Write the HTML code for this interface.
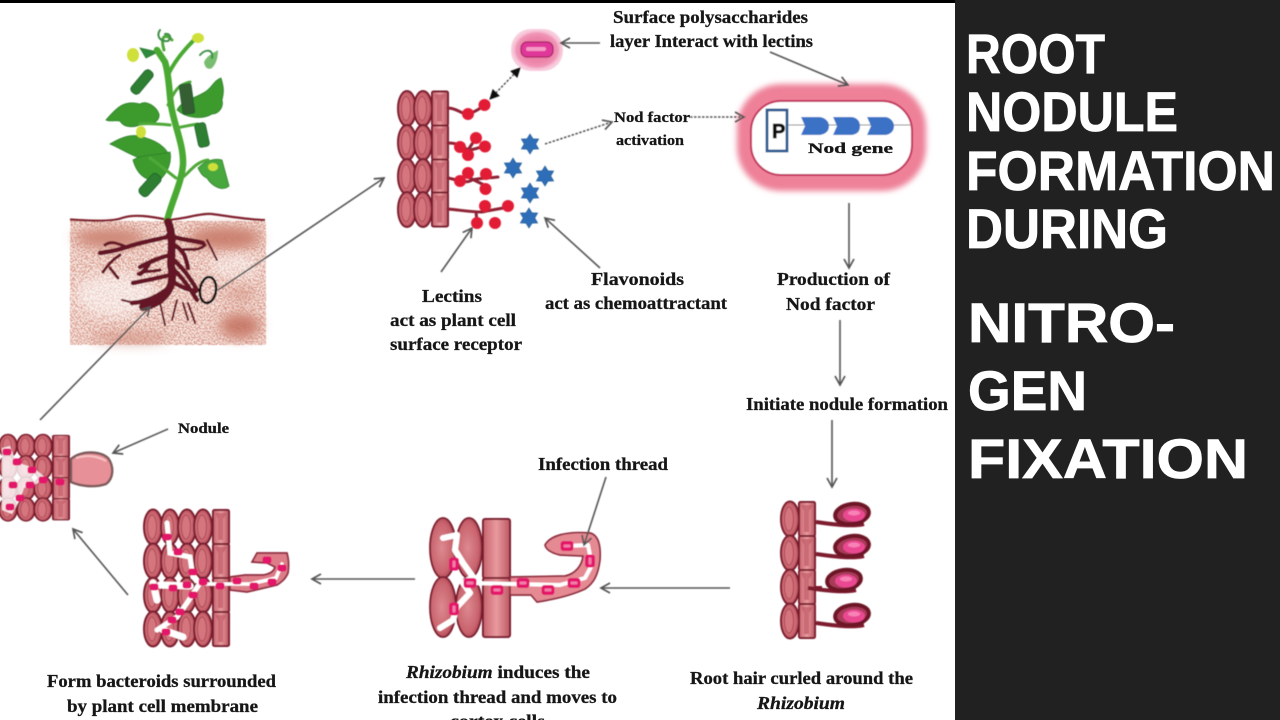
<!DOCTYPE html>
<html lang="en">
<head>
<meta charset="utf-8">
<title>Root nodule formation</title>
<style>
html,body{margin:0;padding:0;background:#212121;width:1280px;height:720px;overflow:hidden}
svg{display:block}
.t{font-family:"Liberation Serif",serif;font-weight:bold;fill:#161616;stroke:#161616;stroke-width:.3;font-size:18px}
.h{font-family:"Liberation Sans",sans-serif;font-weight:bold;fill:#fff;stroke:#fff;stroke-width:.8;font-size:56px}
.a{fill:none;stroke:#555;stroke-width:1.6;marker-end:url(#ah)}
.d{fill:none;stroke:#555;stroke-width:1.5;stroke-dasharray:2.5 1.5}
</style>
</head>
<body>
<svg width="1280" height="720" viewBox="0 0 1280 720" xmlns="http://www.w3.org/2000/svg">
<defs>
<marker id="ah" markerWidth="14" markerHeight="14" refX="11" refY="6" orient="auto" markerUnits="userSpaceOnUse"><path d="M2 1L11 6L2 11" fill="none" stroke="#555" stroke-width="1.7"/></marker>
<marker id="hd" markerWidth="14" markerHeight="14" refX="10" refY="6" orient="auto-start-reverse" markerUnits="userSpaceOnUse"><path d="M1 1L11 6L1 11Z" fill="#111"/></marker>
<radialGradient id="eg" cx=".45" cy=".5" r=".6"><stop offset="0" stop-color="#dd8a90"/><stop offset=".7" stop-color="#c9636d"/><stop offset="1" stop-color="#9c3546"/></radialGradient>
<linearGradient id="rg" x1="0" x2="1"><stop offset="0" stop-color="#c8636e"/><stop offset=".5" stop-color="#e89a9e"/><stop offset="1" stop-color="#bd5863"/></linearGradient>
<radialGradient id="glow" cx=".5" cy=".5" r=".5"><stop offset=".55" stop-color="#e66a94"/><stop offset=".8" stop-color="#f08fb0"/><stop offset="1" stop-color="#fff" stop-opacity="0"/></radialGradient>
<g id="e"><ellipse rx="9" ry="17.5" fill="url(#eg)" stroke="#7a1b2d" stroke-width="2"/><ellipse cx="-1" rx="4.500" ry="12" fill="#d5757e" stroke="#a03c4a" stroke-width=".8"/></g>
<g id="r"><rect x="-8" y="-17" width="16" height="34" rx="1.500" fill="url(#rg)" stroke="#7a1b2d" stroke-width="2"/><path d="M-6-14H6L2-8V13H-3V-8Z" fill="#c05a66" opacity=".7"/></g>
<g id="m"><rect x="-6.500" y="-5" width="13" height="10" rx="3" fill="#e3186a"/><rect x="-3.500" y="-1.500" width="7" height="3" rx="1" fill="#f27ba8"/></g>
<g id="s"><rect x="-4.500" y="-3.500" width="9" height="7" rx="2.500" fill="#e3186a"/></g>
<g id="star"><path d="M0-10L3-5.200L8.700-5L5.800 0L8.700 5L3 5.200L0 10L-3 5.200L-8.700 5L-5.800 0L-8.700-5L-3-5.200Z" fill="#2e6eb8" stroke="#24558f" stroke-width=".6"/></g>
<g id="hair"><path d="M0 18C15 20 35 23 48 20" fill="none" stroke="#7d1a2e" stroke-width="4"/><ellipse cx="36" cy="10" rx="17" ry="10" fill="#a83a58" stroke="#6d1528" stroke-width="4" transform="rotate(-8 36 10)"/><ellipse cx="38" cy="11" rx="11" ry="6.500" fill="#ea4a92"/><ellipse cx="38" cy="9" rx="6" ry="2.500" fill="#f783b6"/></g>
<filter id="speck" x="0" y="0" width="1" height="1"><feTurbulence type="fractalNoise" baseFrequency=".7" numOctaves="2" seed="7"/><feColorMatrix values="0 0 0 0 .66 0 0 0 0 .26 0 0 0 0 .2 6 0 0 0 -2.600"/><feComposite in2="SourceGraphic" operator="in"/></filter>
<filter id="b6"><feGaussianBlur stdDeviation="6"/></filter>
<filter id="b3"><feGaussianBlur stdDeviation="3"/></filter>
<filter id="soft"><feGaussianBlur stdDeviation=".5"/></filter>
<filter id="tb"><feGaussianBlur stdDeviation=".3"/></filter>
</defs>

<rect width="1280" height="720" fill="#212121"/>
<rect width="955" height="720" fill="#fff"/>
<rect width="955" height="3" fill="#000"/>

<g filter="url(#soft)">
<!-- soil -->
<rect x="70" y="221" width="196" height="124" fill="#fbf0ea"/>
<g fill="#b8604c" filter="url(#b6)">
<ellipse cx="110" cy="238" rx="36" ry="9" opacity=".8"/><ellipse cx="225" cy="238" rx="36" ry="11" opacity=".85"/><ellipse cx="240" cy="326" rx="20" ry="12" opacity=".9"/>
<ellipse cx="130" cy="338" rx="40" ry="5" opacity=".6"/><ellipse cx="240" cy="295" rx="16" ry="6" opacity=".45"/>
</g>
<rect x="70" y="221" width="196" height="124" filter="url(#speck)"/>
<ellipse cx="115" cy="295" rx="40" ry="22" fill="#fff" opacity=".55" filter="url(#b6)"/>
<ellipse cx="235" cy="265" rx="26" ry="12" fill="#fff" opacity=".45" filter="url(#b6)"/>
<path d="M70 219.500C90 221 112 222 122 218C134 214 150 216 168 220C185 219 200 213 212 214C228 216 250 220 265 220" fill="none" stroke="#80202e" stroke-width="2.200"/>
<!-- plant -->
<g fill="#3c9b2f" stroke="#2a7d28" stroke-width=".8">
<path d="M106 120C118 106 125 100 140 104C146 100 156 106 159 114C160 122 150 126 142 124C134 128 124 128 120 121C114 120 110 122 106 120Z"/>
<path d="M110 144C120 138 132 132 146 138C160 142 168 150 170 158C160 164 150 158 140 158C130 155 120 148 110 144Z"/>
<path d="M133 160C142 154 155 156 170 152C172 162 168 172 160 180C150 182 138 178 133 160Z"/>
<path d="M177 110C182 100 196 98 205 92C212 88 214 80 221 78C224 88 224 92 222 100C224 108 218 114 212 114C202 120 186 118 177 110Z"/>
<path d="M198 168C206 160 216 158 222 160L229 186C222 192 212 186 207 178C202 176 200 172 198 168Z" fill="#4aa83c"/>
<path d="M204 62C208 54 216 52 218 50C218 58 216 64 212 68C208 70 205 68 204 62Z" fill="#78bd70" stroke="none"/>
<path d="M158 52L146 58L140 48Z" fill="#2e8a3c"/>
</g>
<g fill="none" stroke-linecap="round">
<path d="M167 221C172 200 181 185 183 165C184 145 174 125 171 105C169 90 169 75 165 62L157 50" stroke="#4aa930" stroke-width="6.500"/>
<path d="M168 75C174 62 184 50 194 40" stroke="#4aa930" stroke-width="4"/>
<path d="M176 128C182 127 190 125 198 124M170 125C160 124 150 123 140 124M182 178C190 172 195 162 208 160M176 178C168 172 160 165 150 158M168 105C175 90 178 85 190 82M164 50C160 36 165 33 172 40" stroke="#4fa838" stroke-width="3"/>
<path d="M160 30C156 36 160 42 168 41C172 38 170 33 165 34M200 55C206 48 214 50 212 58" stroke="#3f8f4a" stroke-width="2"/>
</g>
<g fill="#2f7f33" stroke="#1e5e2a" stroke-width=".8">
<rect x="-5" y="-14" width="10" height="28" rx="4" transform="translate(142 82) rotate(40)"/>
<rect x="-6" y="-15" width="12" height="30" rx="2" transform="translate(187 99) rotate(-8)" fill="#355f30"/>
<rect x="-5.500" y="-12" width="11" height="24" rx="3" transform="translate(202 135) rotate(-12)"/>
<rect x="-5.500" y="-13" width="11" height="26" rx="4" transform="translate(150 185) rotate(42)"/>
</g>
<g fill="#cfe03a"><ellipse cx="133" cy="55" rx="6" ry="7"/><ellipse cx="141" cy="132" rx="5" ry="6"/><ellipse cx="198" cy="38" rx="6" ry="5"/><ellipse cx="213" cy="167" rx="5" ry="4"/></g>
<!-- roots -->
<g fill="none" stroke="#651325" stroke-linecap="round" stroke-width="4">
<path d="M168 222C174 235 171 255 171 265C174 280 172 290 160 300C152 305 148 306 143 307" stroke-width="8"/>
<path d="M167 237C155 240 142 242 127 247C118 250 108 252 100 253M168 235C180 240 192 240 203 243M170 255C158 258 150 262 140 267M172 258C182 268 188 274 197 290M172 268C180 275 188 285 197 300M170 275C158 278 148 280 133 283M166 290C155 298 145 302 132 303M170 280C178 285 186 290 196 291M174 245C184 250 186 258 188 268M150 262C146 268 146 270 140 274" stroke-width="4.500"/>
<path d="M127 247C118 244 112 240 105 245M120 255C112 260 108 265 103 272M110 268L118 278M160 270C152 272 146 270 138 274M180 250C190 248 198 252 205 245" stroke-width="3"/>
<path d="M207 240L217 260M160 303L165 325M177 300L172 320M183 303L188 320M188 303L195 323M135 303L122 300" stroke-width="2"/>
</g>
<ellipse cx="208" cy="290" rx="8" ry="13" fill="none" stroke="#111" stroke-width="2.600" transform="rotate(8 208 290)"/>

<!-- top cells -->
<g transform="translate(407 108.500)"><use href="#e"/><use href="#e" y="34"/><use href="#e" y="68"/><use href="#e" y="101"/></g>
<g transform="translate(423 108.500)"><use href="#e"/><use href="#e" y="34"/><use href="#e" y="68"/><use href="#e" y="101"/></g>
<g transform="translate(440 108.500)"><use href="#r"/><use href="#r" y="34"/><use href="#r" y="68"/><use href="#r" y="101"/></g>
<g fill="none" stroke="#8f2436" stroke-width="3" stroke-linecap="round">
<path d="M448 108C458 108 462 116 470 113C476 112 480 108 485 105"/>
<path d="M448 143C458 143 462 146 468 150C475 150 482 146 486 146M468 150L476 138"/>
<path d="M448 178C458 180 466 184 472 180C480 178 490 178 498 177M470 178L486 186"/>
<path d="M448 209C460 210 470 212 482 212C490 210 500 209 508 207M476 212L477 222"/>
</g>
<g fill="#e21f36">
<circle cx="484.500" cy="105" r="6"/><circle cx="468" cy="114" r="6"/>
<circle cx="476" cy="138" r="6"/><circle cx="485" cy="146.500" r="6"/><circle cx="460" cy="147" r="6"/><circle cx="468" cy="155" r="6"/>
<circle cx="468" cy="173" r="6"/><circle cx="486" cy="174" r="6"/><circle cx="460" cy="181" r="6"/><circle cx="485.500" cy="189" r="6"/>
<circle cx="485" cy="206" r="6"/><circle cx="508" cy="206" r="6"/><circle cx="477" cy="223" r="6"/><circle cx="495" cy="223" r="6"/>
</g>
<use href="#star" x="530" y="144"/><use href="#star" x="513" y="168"/><use href="#star" x="545" y="176"/><use href="#star" x="530" y="193"/><use href="#star" x="529" y="218"/>

<!-- bacterium -->
<rect x="511" y="29" width="52" height="42" rx="20" fill="url(#glow)"/>
<rect x="511" y="29" width="52" height="42" rx="20" fill="#f29cbc" opacity=".5"/>
<rect x="521" y="42" width="32" height="15" rx="6" fill="#e0389a" stroke="#a32164" stroke-width="1.200"/>
<rect x="526" y="47" width="20" height="4" rx="2" fill="#f59ac5"/>

<!-- nod gene box -->
<rect x="737" y="84" width="189" height="107" rx="44" fill="#ee8098" filter="url(#b3)"/>
<rect x="751" y="101" width="161" height="74" rx="30" fill="#fff" stroke="#c2345c" stroke-width="2"/>
<path d="M786 125H911" stroke="#888" stroke-width="1"/>
<rect x="767" y="110" width="20" height="41" fill="#fff" stroke="#2f5c92" stroke-width="2.800"/>
<g fill="#3a72c6">
<path d="M801 117H820C826 118 829 122 829 126C829 131 826 134 820 135H801L805 126Z"/>
<path d="M833 117H852C858 118 860 122 860 126C860 131 858 134 852 135H833L837 126Z"/>
<path d="M867 117H886C891 118 894 122 894 126C894 131 891 134 886 135H867L871 126Z"/>
</g>
<text x="772" y="138" style="font-family:'Liberation Sans',sans-serif;font-weight:bold;font-size:20px;fill:#111;stroke:#111;stroke-width:.8">P</text>

<!-- bottom-left nodule cluster -->
<g transform="translate(8 446) scale(.98 .66)"><use href="#e"/><use href="#e" y="32"/><use href="#e" y="64"/><use href="#e" y="96"/></g>
<g transform="translate(26 446) scale(.98 .66)"><use href="#e"/><use href="#e" y="32"/><use href="#e" y="64"/><use href="#e" y="96"/></g>
<g transform="translate(43 446) scale(.98 .66)"><use href="#e"/><use href="#e" y="32"/><use href="#e" y="64"/><use href="#e" y="96"/></g>
<g transform="translate(61 446) scale(1 .62)"><use href="#r"/><use href="#r" y="34"/><use href="#r" y="68"/><use href="#r" y="102"/></g>
<path d="M2 448L10 446L16 462L34 468L46 478L36 484L24 488L20 500L12 514L2 510Z" fill="#fff" opacity=".8"/>
<g><use href="#s" x="7" y="452"/><use href="#s" x="17" y="462"/><use href="#s" x="32" y="470"/><use href="#s" x="43" y="480"/><use href="#s" x="30" y="485"/><use href="#s" x="60" y="482"/><use href="#s" x="13" y="485"/><use href="#s" x="20" y="498"/><use href="#s" x="10" y="507"/></g>
<path d="M71 459C82 450 100 451 108 458C114 466 114 478 106 484C94 488 80 486 71 482Z" fill="#e89098" stroke="#7d5c5c" stroke-width="2.400"/>
<path d="M76 458C86 455 96 455 106 461" stroke="#f7c4c4" stroke-width="2" fill="none"/>

<!-- cortex cluster -->
<g transform="translate(153 527)"><use href="#e"/><use href="#e" y="34"/><use href="#e" y="68"/><use href="#e" y="102"/></g>
<g transform="translate(170 527)"><use href="#e"/><use href="#e" y="34"/><use href="#e" y="68"/><use href="#e" y="102"/></g>
<g transform="translate(187 527)"><use href="#e"/><use href="#e" y="34"/><use href="#e" y="68"/><use href="#e" y="102"/></g>
<g transform="translate(203 527)"><use href="#e"/><use href="#e" y="34"/><use href="#e" y="68"/><use href="#e" y="102"/></g>
<g transform="translate(221 527)"><use href="#r"/><use href="#r" y="34"/><use href="#r" y="68"/><use href="#r" y="102"/></g>
<path d="M230 577L245 575L263 575C270 574 274 571 275 567L267 563L252 562L257 553L287 553C289 560 289 566 288 573C285 580 280 583 277 585L247 592L230 590Z" fill="#dd7d88" stroke="#8d2a3c" stroke-width="1.700"/>
<g fill="none" stroke="#fff" stroke-linecap="round">
<path d="M167 523L170 553L190 557L193 577L200 583L187 603L177 617L157 630" stroke-width="5"/>
<path d="M153 583L157 600M160 585L190 586M163 630L183 637" stroke-width="7"/>
<path d="M205 584H250L276 578L282 564" stroke-width="3.500"/>
</g>
<g><use href="#s" x="167" y="537"/><use href="#s" x="178" y="552"/><use href="#s" x="193" y="572"/><use href="#s" x="187" y="585"/><use href="#s" x="203" y="582"/><use href="#s" x="220" y="586"/><use href="#s" x="237" y="581"/><use href="#s" x="254" y="586"/><use href="#s" x="272" y="582"/><use href="#s" x="282" y="568"/><use href="#s" x="267" y="560"/><use href="#s" x="173" y="588"/><use href="#s" x="154" y="587"/><use href="#s" x="193" y="595"/><use href="#s" x="180" y="612"/><use href="#s" x="172" y="620"/><use href="#s" x="166" y="632"/></g>

<!-- infection cluster -->
<g fill="url(#eg)" stroke="#7a1b2d" stroke-width="1.800">
<ellipse cx="443" cy="548" rx="13" ry="30"/><ellipse cx="469" cy="548" rx="13" ry="30"/><ellipse cx="443" cy="607" rx="13" ry="30"/><ellipse cx="469" cy="607" rx="13" ry="30"/>
</g>
<rect x="483" y="519" width="27" height="59" rx="2" fill="url(#rg)" stroke="#7a1b2d" stroke-width="2"/>
<rect x="483" y="578" width="27" height="59" rx="2" fill="url(#rg)" stroke="#7a1b2d" stroke-width="2"/>
<path d="M510 577L565 576C575 574 582 566 583 556L560 555C552 553 546 550 545 545C550 536 565 531 590 533C598 535 601 545 600 560C598 575 594 583 585 589C570 596 550 600 537 602L531 595L510 595Z" fill="#e58a93" stroke="#8d2a3c" stroke-width="1.700"/>
<g fill="none" stroke="#fff" stroke-linecap="round" stroke-linejoin="round">
<path d="M567 546L588 545L592 565L585 578L560 585L470 583" stroke-width="4"/>
<path d="M443 538L457 535L455 550L463 563L473 577L463 583L470 593L457 607L453 620L440 628" stroke-width="6"/>
</g>
<use href="#m" transform="translate(454 564) rotate(90)"/><use href="#m" x="470" y="583"/><use href="#m" x="497" y="590"/><use href="#m" x="523" y="583"/><use href="#m" x="548" y="590"/><use href="#m" x="574" y="583"/><use href="#m" transform="translate(590 561) rotate(90)"/><use href="#m" x="567" y="546"/><use href="#m" transform="translate(454 609) rotate(90)"/>

<!-- curled root hairs -->
<g transform="translate(790 519)"><use href="#e"/><use href="#e" y="34"/><use href="#e" y="68"/><use href="#e" y="102"/></g>
<g transform="translate(807 519)"><use href="#r"/><use href="#r" y="34"/><use href="#r" y="68"/><use href="#r" y="102"/></g>
<use href="#hair" x="816" y="504"/><use href="#hair" x="816" y="536"/><use href="#hair" x="808" y="570"/><use href="#hair" x="816" y="605"/>
<path d="M816 588H822" stroke="#7d1a2e" stroke-width="4"/>

<!-- arrows -->
<path class="a" d="M218 290L384 178"/>
<path class="a" d="M40 420L150 307"/>
<path class="a" d="M168 429L113 453"/>
<path class="a" d="M128 595L73 529"/>
<path class="a" d="M600 43L561 43"/>
<path class="a" d="M770 52L848 85"/>
<path class="a" d="M441 272L472 228"/>
<path class="a" d="M600 268L545 218"/>
<path class="a" d="M849 203L849 268"/>
<path class="a" d="M840 320L840 385"/>
<path class="a" d="M832 420L832 487"/>
<path class="a" d="M730 588L601 588"/>
<path class="a" d="M415 579L312 579"/>
<path class="a" d="M606 477L584 545"/>
<path class="d" d="M490 99L520 68" marker-start="url(#hd)" marker-end="url(#hd)"/>
<path class="d" d="M545 144L612 122" marker-end="url(#ah)"/>
<path class="d" d="M690 117L744 117" marker-end="url(#ah)"/>
</g>

<g filter="url(#tb)">
<text class="t" x="613" y="23" textLength="195" lengthAdjust="spacingAndGlyphs">Surface polysaccharides</text>
<text class="t" x="610" y="47" textLength="203" lengthAdjust="spacingAndGlyphs">layer Interact with lectins</text>
<text class="t" style="font-size:15px" x="614" y="122" textLength="76" lengthAdjust="spacingAndGlyphs">Nod factor</text>
<text class="t" style="font-size:15px" x="616" y="145" textLength="68" lengthAdjust="spacingAndGlyphs">activation</text>
<text class="t" style="font-size:15px" x="808" y="153" textLength="85" lengthAdjust="spacingAndGlyphs">Nod  gene</text>
<text class="t" x="591" y="285" textLength="93" lengthAdjust="spacingAndGlyphs">Flavonoids</text>
<text class="t" x="545" y="309" textLength="182" lengthAdjust="spacingAndGlyphs">act as chemoattractant</text>
<text class="t" x="422" y="302" textLength="60" lengthAdjust="spacingAndGlyphs">Lectins</text>
<text class="t" x="390" y="326" textLength="126" lengthAdjust="spacingAndGlyphs">act as plant cell</text>
<text class="t" x="390" y="350" textLength="132" lengthAdjust="spacingAndGlyphs">surface receptor</text>
<text class="t" x="777" y="285" textLength="113" lengthAdjust="spacingAndGlyphs">Production of</text>
<text class="t" x="786" y="310" textLength="89" lengthAdjust="spacingAndGlyphs">Nod factor</text>
<text class="t" x="746" y="410" textLength="202" lengthAdjust="spacingAndGlyphs">Initiate nodule formation</text>
<text class="t" style="font-size:15px" x="178" y="433" textLength="51" lengthAdjust="spacingAndGlyphs">Nodule</text>
<text class="t" x="538" y="470" textLength="130" lengthAdjust="spacingAndGlyphs">Infection thread</text>
<text class="t" x="690" y="684" textLength="223" lengthAdjust="spacingAndGlyphs">Root hair curled around the</text>
<text class="t" x="757" y="709" textLength="88" lengthAdjust="spacingAndGlyphs" font-style="italic">Rhizobium</text>
<text class="t" x="406" y="678" textLength="184" lengthAdjust="spacingAndGlyphs"><tspan font-style="italic">Rhizobium</tspan> induces the</text>
<text class="t" x="378" y="703" textLength="239" lengthAdjust="spacingAndGlyphs">infection thread and moves to</text>
<text class="t" x="450" y="727" textLength="95" lengthAdjust="spacingAndGlyphs">cortex cells</text>
<text class="t" x="47" y="687" textLength="229" lengthAdjust="spacingAndGlyphs">Form bacteroids surrounded</text>
<text class="t" x="67" y="712" textLength="191" lengthAdjust="spacingAndGlyphs">by plant cell membrane</text>
</g>

<rect x="955" y="0" width="325" height="720" fill="#212121"/>
<text class="h" x="966" y="73" textLength="139" lengthAdjust="spacingAndGlyphs">ROOT</text>
<text class="h" x="966" y="131" textLength="212" lengthAdjust="spacingAndGlyphs">NODULE</text>
<text class="h" x="966" y="190" textLength="309" lengthAdjust="spacingAndGlyphs">FORMATION</text>
<text class="h" x="966" y="248" textLength="202" lengthAdjust="spacingAndGlyphs">DURING</text>
<text class="h" x="968" y="342" textLength="207" lengthAdjust="spacingAndGlyphs">NITRO-</text>
<text class="h" x="968" y="410" textLength="119" lengthAdjust="spacingAndGlyphs">GEN</text>
<text class="h" x="968" y="478" textLength="280" lengthAdjust="spacingAndGlyphs">FIXATION</text>
</svg>
</body>
</html>
